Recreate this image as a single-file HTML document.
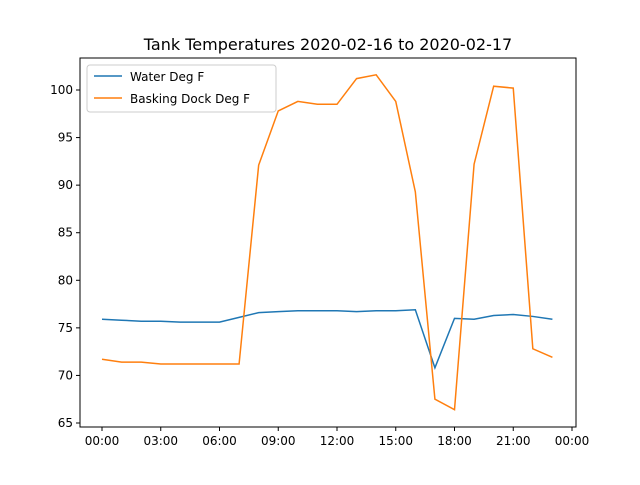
<!DOCTYPE html>
<html><head><meta charset="utf-8"><style>
body{margin:0;background:#fff;}
svg{font-family:"DejaVu Sans","Liberation Sans",sans-serif;}
</style></head><body>
<svg id="chart" width="640" height="480" viewBox="0 0 640 480">
<rect width="640" height="480" fill="#fff"/>
<text x="328" y="50" text-anchor="middle" font-size="16">Tank Temperatures 2020-02-16 to 2020-02-17</text>
<g id="ticks"></g>
<g id="lines"></g>
<rect x="80" y="58" width="496" height="369" fill="none" stroke="#000" stroke-width="1"/>
<g>
<rect x="87" y="65" width="189" height="47" rx="3" fill="#fff" stroke="#ccc" fill-opacity="0.8"/>
<line x1="94" y1="76" x2="122" y2="76" stroke="#1f77b4" stroke-width="1.5"/>
<text x="130" y="81" font-size="12">Water Deg F</text>
<line x1="94" y1="98" x2="122" y2="98" stroke="#ff7f0e" stroke-width="1.5"/>
<text x="130" y="103" font-size="12">Basking Dock Deg F</text>
</g>
</svg>
<script>
const hours=[0,1,2,3,4,5,6,7,8,9,10,11,12,13,14,15,16,17,18,19,20,21,22,23];
const water=[75.9,75.8,75.7,75.7,75.6,75.6,75.6,76.1,76.6,76.7,76.8,76.8,76.8,76.7,76.8,76.8,76.9,70.8,76.0,75.9,76.3,76.4,76.2,75.9];
const basking=[71.7,71.4,71.4,71.2,71.2,71.2,71.2,71.2,92.1,97.8,98.8,98.5,98.5,101.2,101.6,98.8,89.3,67.5,66.4,92.2,100.4,100.2,72.8,71.9];
const yTicks=[65,70,75,80,85,90,95,100];
const xTickHours=[0,3,6,9,12,15,18,21,24];
const xTickLabels=["00:00","03:00","06:00","09:00","12:00","15:00","18:00","21:00","00:00"];
const NS="http://www.w3.org/2000/svg";
function xs(h){return 102+h*470/24;}
function ys(v){return 423-(v-65)*333/35;}
const tg=document.getElementById('ticks');
yTicks.forEach(v=>{
 const l=document.createElementNS(NS,'line');
 l.setAttribute('x1',76);l.setAttribute('x2',80);l.setAttribute('y1',ys(v));l.setAttribute('y2',ys(v));l.setAttribute('stroke','#000');
 
 
 tg.appendChild(l);
 const t=document.createElementNS(NS,'text');
 t.setAttribute('x',73);t.setAttribute('y',ys(v)+4);t.setAttribute('text-anchor','end');t.setAttribute('font-size','12');t.textContent=v;
 
 
 tg.appendChild(t);
});
xTickHours.forEach((h,i)=>{
 const l=document.createElementNS(NS,'line');
 l.setAttribute('x1',xs(h));l.setAttribute('x2',xs(h));l.setAttribute('y1',427);l.setAttribute('y2',431);l.setAttribute('stroke','#000');
 
 
 tg.appendChild(l);
 const t=document.createElementNS(NS,'text');
 t.setAttribute('x',xs(h));t.setAttribute('y',445);t.setAttribute('text-anchor','middle');t.setAttribute('font-size','12');t.textContent=xTickLabels[i];
 
 
 tg.appendChild(t);
});
const lg=document.getElementById('lines');
function drawLine(vals,color,name){
 const p=document.createElementNS(NS,'polyline');
 p.setAttribute('points',vals.map((v,i)=>xs(hours[i])+','+ys(v)).join(' '));
 p.setAttribute('fill','none');p.setAttribute('stroke',color);p.setAttribute('stroke-width','1.5');
 
 
 lg.appendChild(p);
}
drawLine(water,'#1f77b4','water-line');
drawLine(basking,'#ff7f0e','basking-line');
</script>
</body></html>
